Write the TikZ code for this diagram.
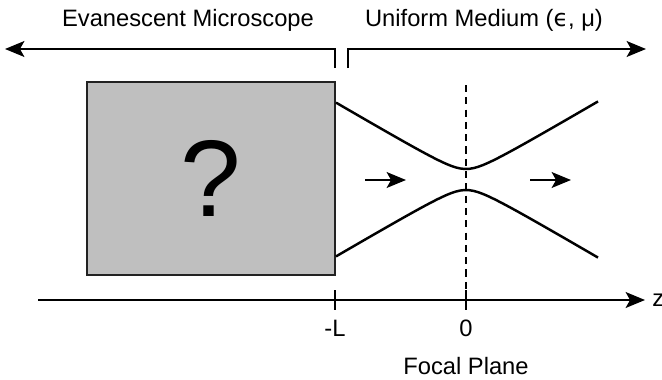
\documentclass[tikz,border=0pt]{standalone}
\usepackage{fontspec}
\setmainfont{Liberation Sans}
\newfontfamily\symfont{DejaVu Sans}
\usepackage{tikz}
\usetikzlibrary{arrows.meta, positioning, calc}
\definecolor{scopegray}{HTML}{BFBFBF}
\definecolor{edgegray}{HTML}{222222}

\begin{document}
\begin{tikzpicture}[
  x=0.02cm, y=-0.02cm,
  line/.style={draw=black, line width=1.4pt},
  arr/.style={line, -{Stealth[length=11pt, width=9pt, inset=2.5pt]}},
  box/.style={rectangle, draw=edgegray, line width=1.4pt, fill=scopegray,
    minimum width=4.96cm, minimum height=3.86cm, inner sep=0pt},
  lbl/.style={font=\fontsize{13.5}{15}\selectfont, inner sep=1pt},
  tick/.style={line},
]
  \useasboundingbox (0,0) rectangle (662,379);

  % region labels
  \node[lbl] (evan) at (188,20) {Evanescent Microscope};
  \node[lbl] (unif) at (484,20) {Uniform Medium ({\symfont ϵ}, μ)};

  % region brackets
  \coordinate (lend) at (335,68);
  \coordinate (lfar) at (5,49);
  \coordinate (rend) at (348,68);
  \coordinate (rfar) at (646,49);
  \draw[arr] (lend) |- (lfar);
  \draw[arr] (rend) |- (rfar);

  % microscope box
  \node[box, font=\fontsize{62}{66}\selectfont] (scope) at (211,178.5) {?};

  % focal plane
  \coordinate (ftop) at (466,85);
  \coordinate (fbot) at (466,300);
  \draw[line, dash pattern=on 4pt off 3pt] (ftop) -- (fbot);

  % beam
  \draw[line] plot[domain=-130:132, samples=60]
    ({466+\x},{179.5-10*sqrt(1.1025+0.3434*(\x/10)^2)});
  \draw[line] plot[domain=-130:132, samples=60]
    ({466+\x},{179.5+10*sqrt(1.1025+0.3434*(\x/10)^2)});

  % propagation arrows
  \coordinate (a1s) at (365,180);
  \coordinate (a1e) at (406,180);
  \coordinate (a2s) at (530,180);
  \coordinate (a2e) at (571,180);
  \draw[arr] (a1s) -- (a1e);
  \draw[arr] (a2s) -- (a2e);

  % z axis
  \coordinate (zstart) at (38,300);
  \coordinate (zend) at (645,300);
  \draw[arr] (zstart) -- (zend);
  \node[lbl, right=3pt of zend] (zlbl) {z};

  \coordinate (tL) at (335,300);
  \coordinate (t0) at (466,300);
  \draw[tick] ($(tL)+(0,-10)$) -- ($(tL)+(0,10)$);
  \draw[tick] ($(t0)+(0,-10)$) -- ($(t0)+(0,10)$);
  \node[lbl] (mL) at (335,328) {-L};
  \node[lbl] (m0) at (466,328) {0};
  \node[lbl] (focal) at (466,366) {Focal Plane};
\end{tikzpicture}
\end{document}
